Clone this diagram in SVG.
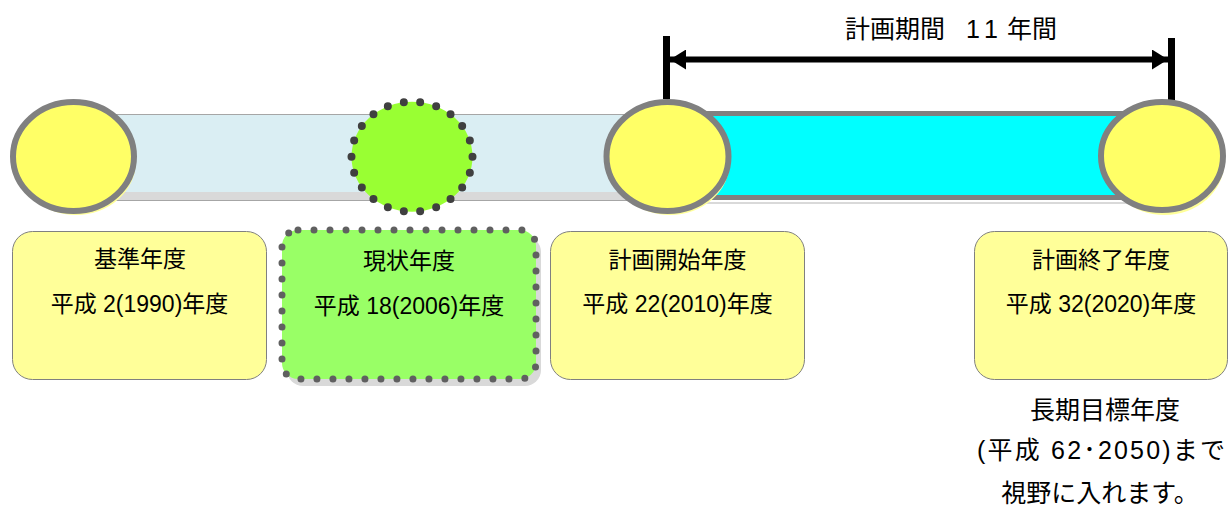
<svg xmlns="http://www.w3.org/2000/svg" width="1229" height="506" viewBox="0 0 1229 506">
<defs>
<style>
text{font-family:"Liberation Sans","Noto Sans CJK JP",sans-serif;fill:#000;text-anchor:middle}
.t{font-size:23px}
.b{font-size:25px}
.ttl{font-size:25px;text-anchor:start}
.ybox{fill:#FFFF99;stroke:#808080;stroke-width:1}
.yc{fill:#FFFF66;stroke:#808080;stroke-width:6}
.ysh{fill:#FFFF99}
.bar{stroke:#000;stroke-width:7;fill:none}
</style>
<marker id="ah" viewBox="0 0 16 20" refX="16" refY="10" markerWidth="16" markerHeight="20" markerUnits="userSpaceOnUse" orient="auto-start-reverse">
<path d="M0,0 L16,10 L0,20 Z" fill="#000"/>
</marker>
</defs>
<rect width="1229" height="506" fill="#fff"/>

<g id="bars">
<rect x="73" y="114.5" width="595" height="86" fill="#D9D9D9" stroke="#A6A6A6" stroke-width="1"/>
<rect x="73.5" y="115" width="594" height="77" fill="#DAEEF3"/>
<line x1="700" y1="203" x2="1160" y2="203" stroke="#D9D9D9" stroke-width="2"/>
<rect x="667" y="113.5" width="495" height="84" fill="#00FFFF" stroke="#808080" stroke-width="5"/>
</g>

<g id="connectors">
<line class="bar" x1="666.5" y1="36" x2="666.5" y2="99"/>
<line class="bar" x1="1171.5" y1="38" x2="1171.5" y2="100"/>
<line x1="670" y1="59.5" x2="1168" y2="59.5" stroke="#000" stroke-width="6" marker-start="url(#ah)" marker-end="url(#ah)"/>
</g>

<g id="title">
<text class="ttl" y="38"><tspan x="845">計画期間</tspan><tspan x="966">1</tspan><tspan x="984">1</tspan><tspan x="1007">年間</tspan></text>
</g>

<g id="circle-base">
<ellipse class="ysh" cx="76" cy="161" rx="60" ry="54"/>
<ellipse class="yc" cx="73.5" cy="156.5" rx="60.5" ry="54.5"/>
</g>

<g id="circle-current">
<ellipse cx="412" cy="156.7" rx="60.5" ry="55" fill="#99FF33" stroke="#404040" stroke-width="8" stroke-linecap="round" stroke-dasharray="0 1" pathLength="22"/>
</g>

<g id="circle-start">
<ellipse class="ysh" cx="670" cy="161" rx="60" ry="54"/>
<ellipse class="yc" cx="667.5" cy="156.5" rx="61" ry="54.5"/>
</g>

<g id="circle-end">
<ellipse class="ysh" cx="1164.5" cy="161" rx="60" ry="54"/>
<ellipse class="yc" cx="1162" cy="156" rx="61" ry="54"/>
</g>

<g id="box-base">
<rect class="ybox" x="12.5" y="231.5" width="254" height="148" rx="20"/>
<text class="t" x="140" y="267">基準年度</text>
<text class="t" x="139.5" y="312">平成 2(1990)年度</text>
</g>

<g id="box-current">
<rect x="287" y="236" width="254" height="150" rx="16" fill="#D9D9D9"/>
<rect x="282" y="230" width="254" height="149" rx="16" fill="#99FF66" stroke="#606060" stroke-width="7" stroke-linecap="round" stroke-dasharray="0 16"/>
<text class="t" x="409" y="269">現状年度</text>
<text class="t" x="409" y="314">平成 18(2006)年度</text>
</g>

<g id="box-start">
<rect class="ybox" x="550.5" y="231.5" width="254" height="148" rx="20"/>
<text class="t" x="677.5" y="268">計画開始年度</text>
<text class="t" x="677.5" y="312">平成 22(2010)年度</text>
</g>

<g id="box-end">
<rect class="ybox" x="974.5" y="231.5" width="253" height="148" rx="20"/>
<text class="t" x="1101" y="268">計画終了年度</text>
<text class="t" x="1101" y="312">平成 32(2020)年度</text>
</g>

<g id="note">
<text class="b" x="1105" y="419">長期目標年度</text>
<text class="b" x="1101" y="459" textLength="248" lengthAdjust="spacing">(平成 62･2050)まで</text>
<text class="b" x="1100" y="502">視野に入れます。</text>
</g>
</svg>
